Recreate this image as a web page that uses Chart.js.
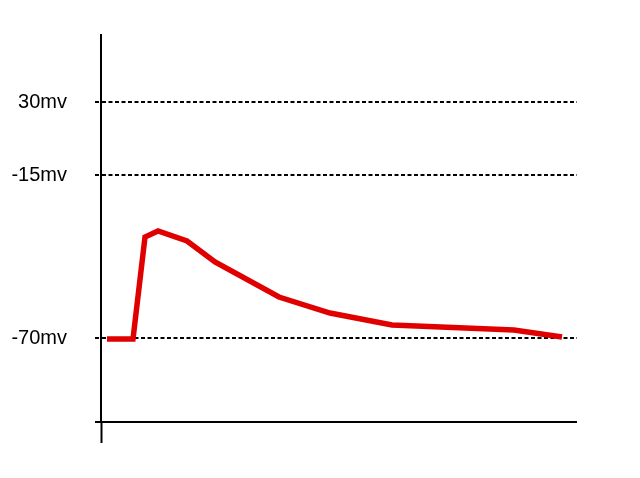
<!DOCTYPE html>
<html>
<head>
<meta charset="utf-8">
<script src="https://cdn.jsdelivr.net/npm/chart.js@4/dist/chart.umd.min.js"></script>
<style>
  html, body { margin: 0; padding: 0; background: #fff; }
  #wrap { width: 640px; height: 478px; }
</style>
</head>
<body>
<div id="wrap"><canvas id="grafico"></canvas></div>
<script>
// schematic action potential, y in drawing units above the time axis
const tempo = [6, 32, 44, 57, 86, 114, 178, 229, 291, 413, 461]
const potencial = [83, 83, 185, 191, 181, 160, 125, 109, 97, 92, 85]

// y tick positions (same units) and their labels
const yTicks = [0, 84, 247, 320]
const yLabels = ['', '-70mv', '-15mv', '30mv']

const ctx = document.getElementById('grafico')

const isBase = c => c.tick && c.tick.value === 0

new Chart(ctx, {
  type: 'line',
  data: {
    datasets: [{
      data: tempo.map((t, i) => ({ x: t, y: potencial[i] })),
      borderColor: '#e00000',
      borderWidth: 5.5,
      borderJoinStyle: 'miter',
      borderCapStyle: 'butt',
      pointRadius: 0,
      tension: 0,
      fill: false
    }]
  },
  options: {
    responsive: true,
    maintainAspectRatio: false,
    animation: false,
    layout: { padding: { top: 35, right: 63, left: 0, bottom: 0 } },
    plugins: {
      legend: { display: false },
      tooltip: { enabled: false }
    },
    scales: {
      x: {
        type: 'linear',
        min: 0,
        max: 476,
        afterBuildTicks: scale => { scale.ticks = [{ value: 0 }] },
        afterFit: scale => {
          scale.height = 56
          scale.paddingLeft = 0
          scale.paddingRight = 0
        },
        ticks: { display: false },
        grid: {
          drawOnChartArea: false,
          drawTicks: true,
          tickLength: 21,
          tickColor: '#000',
          tickWidth: 2
        },
        border: { display: false }
      },
      y: {
        type: 'linear',
        min: 0,
        max: 387,
        afterBuildTicks: scale => { scale.ticks = yTicks.map(v => ({ value: v })) },
        afterFit: scale => {
          scale.width = 101
          scale.paddingTop = 0
          scale.paddingBottom = 0
        },
        ticks: {
          padding: 28,
          color: '#000',
          font: { family: 'Liberation Sans', size: 20 },
          callback: (value) => yLabels[yTicks.indexOf(value)]
        },
        grid: {
          color: '#000',
          lineWidth: 2,
          tickLength: 6,
          tickColor: '#000',
          tickWidth: 2,
          tickBorderDash: c => isBase(c) ? [] : [4, 2.5]
        },
        border: {
          display: true,
          color: '#000',
          width: 2,
          dash: c => isBase(c) ? [] : [4, 2.5]
        }
      }
    }
  }
})
</script>
</body>
</html>
